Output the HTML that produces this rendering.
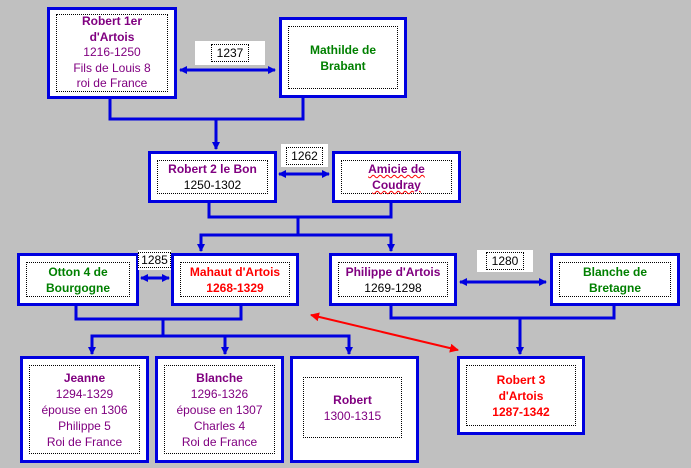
<!DOCTYPE html>
<html><head><meta charset="utf-8"><style>
body{margin:0;width:691px;height:468px;background:#c0c0c0;position:relative;overflow:hidden;font-family:"Liberation Sans",Arial,sans-serif;font-size:12px;}
.b{position:absolute;background:#fff;border:3px solid #0000e0;box-sizing:border-box;}
.i{position:absolute;left:6px;right:6px;top:6px;bottom:6px;border:1px dotted #000;display:flex;flex-direction:column;justify-content:center;align-items:center;text-align:center;line-height:16px;}
.p{color:#800080}.g{color:#008000}.r{color:#ff0000}.k{color:#000}
b{font-weight:bold}
.l{position:absolute;background:#fff;display:flex;align-items:center;justify-content:center;}
.l span{border:1px dotted #000;padding:1px 5px;color:#000}
svg{position:absolute;left:0;top:0}
.w{text-decoration:underline wavy red;text-decoration-thickness:1px}
</style></head><body>
<svg width="691" height="468">
<defs>
<marker id="a" markerWidth="8" markerHeight="8" refX="7" refY="4" orient="auto-start-reverse" markerUnits="userSpaceOnUse"><path d="M0,0L8,4L0,8z" fill="#0000e0"/></marker>
<marker id="ar" markerWidth="9" markerHeight="9" refX="8" refY="4.5" orient="auto-start-reverse" markerUnits="userSpaceOnUse"><path d="M0,0L9,4.5L0,9z" fill="#ff0000"/></marker>
</defs>
<g stroke="#0000e0" stroke-width="3" fill="none">
<line x1="180" y1="70" x2="275" y2="70" marker-start="url(#a)" marker-end="url(#a)"/>
<polyline points="110,98 110,119 303,119 303,97"/>
<line x1="216" y1="119" x2="216" y2="149" marker-end="url(#a)"/>
<line x1="279" y1="174" x2="329" y2="174" marker-start="url(#a)" marker-end="url(#a)"/>
<polyline points="209,202 209,217 391,217 391,202"/>
<line x1="298" y1="217" x2="298" y2="235"/>
<polyline points="201,251 201,235 391,235 391,251"/>
<line x1="201" y1="243" x2="201" y2="251" marker-end="url(#a)"/>
<line x1="391" y1="243" x2="391" y2="251" marker-end="url(#a)"/>
<line x1="141" y1="278" x2="169" y2="278" marker-start="url(#a)" marker-end="url(#a)"/>
<line x1="460" y1="282" x2="546" y2="282" marker-start="url(#a)" marker-end="url(#a)"/>
<polyline points="76,305 76,319 241,319 241,305"/>
<line x1="163" y1="319" x2="163" y2="336"/>
<polyline points="92,354 92,336 349,336 349,354"/>
<line x1="92" y1="344" x2="92" y2="354" marker-end="url(#a)"/>
<line x1="225" y1="336" x2="225" y2="354" marker-end="url(#a)"/>
<line x1="349" y1="344" x2="349" y2="354" marker-end="url(#a)"/>
<polyline points="391,305 391,318 614,318 614,305"/>
<line x1="520" y1="318" x2="520" y2="354" marker-end="url(#a)"/>
</g>
<line x1="311" y1="315" x2="458" y2="350" stroke="#ff0000" stroke-width="2" marker-start="url(#ar)" marker-end="url(#ar)"/>
</svg>
<div class="b" style="left:47px;top:7px;width:130px;height:92px"><div class="i p" style="top:4px;bottom:4px;line-height:15.5px"><b>Robert 1er</b><b>d'Artois</b><span>1216-1250</span><span>Fils de Louis 8</span><span>roi de France</span></div></div>
<div class="b" style="left:279px;top:17px;width:128px;height:81px"><div class="i g"><b>Mathilde de</b><b>Brabant</b></div></div>
<div class="l" style="left:195px;top:41px;width:70px;height:24px"><span>1237</span></div>
<div class="b" style="left:148px;top:151px;width:129px;height:52px"><div class="i"><b class="p">Robert 2 le Bon</b><span class="k">1250-1302</span></div></div>
<div class="b" style="left:332px;top:151px;width:129px;height:52px"><div class="i p"><b class="w">Amicie de</b><b class="w">Coudray</b></div></div>
<div class="l" style="left:281px;top:144px;width:47px;height:23px;background:#fff"><span style="padding:1px 4px">1262</span></div>
<div class="b" style="left:17px;top:253px;width:122px;height:53px"><div class="i g"><b>Otton 4 de</b><b>Bourgogne</b></div></div>
<div class="b" style="left:171px;top:253px;width:128px;height:53px"><div class="i r"><b>Mahaut d'Artois</b><b>1268-1329</b></div></div>
<div class="l" style="left:138px;top:250px;width:33px;height:20px"><span style="padding:0 2px">1285</span></div>
<div class="b" style="left:329px;top:253px;width:128px;height:53px"><div class="i"><b class="p">Philippe d'Artois</b><span class="k">1269-1298</span></div></div>
<div class="b" style="left:550px;top:253px;width:130px;height:53px"><div class="i g"><b>Blanche de</b><b>Bretagne</b></div></div>
<div class="l" style="left:477px;top:250px;width:56px;height:22px;background:#fff"><span>1280</span></div>
<div class="b" style="left:20px;top:356px;width:129px;height:107px"><div class="i p"><b>Jeanne</b><span>1294-1329</span><span>épouse en 1306</span><span>Philippe 5</span><span>Roi de France</span></div></div>
<div class="b" style="left:155px;top:356px;width:129px;height:107px"><div class="i p"><b>Blanche</b><span>1296-1326</span><span>épouse en 1307</span><span>Charles 4</span><span>Roi de France</span></div></div>
<div class="b" style="left:290px;top:356px;width:129px;height:107px"><div class="i p" style="left:10px;right:14px;top:18px;bottom:22px"><b>Robert</b><span>1300-1315</span></div></div>
<div class="b" style="left:457px;top:356px;width:128px;height:79px"><div class="i r"><b>Robert 3</b><b>d'Artois</b><b>1287-1342</b></div></div>
</body></html>
